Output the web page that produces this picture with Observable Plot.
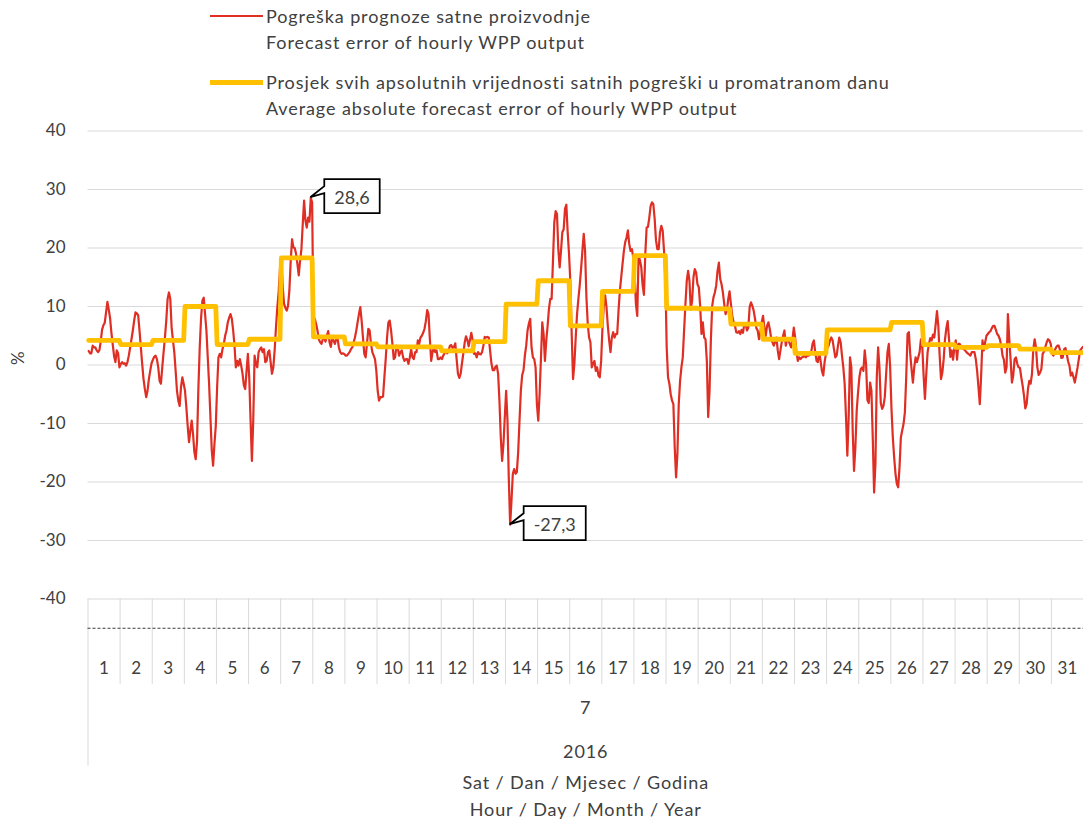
<!DOCTYPE html>
<html>
<head>
<meta charset="utf-8">
<script src="https://cdn.jsdelivr.net/npm/d3@7"></script>
<script src="https://cdn.jsdelivr.net/npm/@observablehq/plot@0.6"></script>
<style>
  body { margin: 0; background: #fff; font-family: Lato, "Open Sans", sans-serif; }
  #legend { position: relative; width: 1083px; height: 120px; }
  .sw { position: absolute; left: 210px; width: 53px; }
  .lt { position: absolute; left: 266px; font-size: 18px; letter-spacing: 0.9px; line-height: 26px; color: #404040; white-space: nowrap; }
  #chart svg { display: block; }
</style>
</head>
<body>
<div id="legend"></div>
<div id="chart"></div>
<script>
// ---- legend texts ----
const legendErrorText = ["Pogreška prognoze satne proizvodnje", "Forecast error of hourly WPP output"];
const legendAvgText = ["Prosjek svih apsolutnih vrijednosti satnih pogreški u promatranom danu", "Average absolute forecast error of hourly WPP output"];
const axisTitle = ["Sat / Dan / Mjesec / Godina", "Hour / Day / Month / Year"];
const monthLabel = "7";
const yearLabel = "2016";
const yLabel = "%";
const yTicks = [-40, -30, -20, -10, 0, 10, 20, 30, 40];
const dayLabels = ["1","2","3","4","5","6","7","8","9","10","11","12","13","14","15","16","17","18","19","20","21","22","23","24","25","26","27","28","29","30","31"];

// ---- hourly forecast error (%), one array per day of July 2016 ----
const d01 = [2.4,2.0,2.0,3.3,3.0,3.0,2.5,2.2,2.5,4.0,6.0,6.8,7.2,9.0,10.8,9.5,8.0,5.5,3.5,1.5,0.5,2.5,2.0,-0.4];
const d02 = [0.2,0.5,0.2,0.3,-0.1,0.5,1.6,3.0,4.4,5.9,7.6,9.0,8.8,8.5,5.9,3.0,0.2,-2.4,-4.1,-5.5,-4.4,-2.4,-1.0,0.3];
const d03 = [0.9,1.4,1.6,1.0,-0.4,-2.7,-3.2,-0.4,2.2,4.7,7.6,11.3,12.4,11.3,6.4,4.2,2.2,-1.0,-4.4,-6.1,-7.0,-3.8,-2.1,-3.2];
const d04 = [-4.4,-7.2,-10.4,-13.2,-11.2,-9.5,-11.8,-14.9,-16.1,-13.0,-4.0,3.0,8.0,11.0,11.5,8.7,5.9,1.3,-3.2,-8.9,-14.6,-17.2,-13.5,-10.4];
const d05 = [-3.8,1.3,1.9,1.3,2.7,3.6,5.0,5.9,7.3,8.1,8.7,7.9,5.9,3.3,-0.4,0.7,-0.1,1.0,-0.1,-1.5,-3.5,-4.1,-1.0,1.9];
const d06 = [-2.1,-9.5,-16.4,-9.5,1.6,0.2,-0.4,2.2,2.7,3.0,2.2,2.7,0.5,0.7,2.2,2.5,0.5,-1.5,-0.4,2.5,6.5,9.9,12.5,16.5];
const d07 = [18.4,13.5,10.5,9.8,9.3,10.1,12.7,17.8,21.5,20.1,20.0,19.0,17.3,15.3,17.8,19.8,24.1,28.1,24.7,23.5,25.2,24.5,28.6,27.8];
const d08 = [8.0,7.9,7.0,5.9,4.4,3.9,3.6,4.4,4.7,4.0,5.0,5.8,3.9,3.1,4.7,4.2,3.6,4.4,4.6,3.0,2.2,1.9,2.0,1.9];
const d09 = [1.6,1.6,1.9,2.2,2.7,3.0,3.9,4.7,5.9,7.3,8.7,9.9,7.6,4.7,1.9,1.3,3.6,6.2,5.9,3.6,2.2,1.6,1.0,-1.0];
const d10 = [-4.4,-6.1,-5.5,-5.5,-5.4,-2.1,1.0,4.7,7.3,7.6,5.9,3.6,1.0,1.3,3.3,3.0,1.6,2.2,2.5,1.3,0.7,1.0,1.0,0.2];
const d11 = [1.3,2.7,1.3,1.0,2.2,2.2,4.2,3.6,4.7,5.0,5.5,6.2,7.5,9.4,8.7,4.4,0.7,2.2,3.0,2.2,2.5,1.0,1.0,1.3];
const d12 = [1.0,1.6,2.0,2.5,2.0,2.5,3.3,3.4,2.9,3.1,3.7,1.0,-1.5,-2.2,-1.5,0.3,2.0,3.8,4.9,4.3,3.2,4.3,5.5,4.2];
const d13 = [1.9,2.0,1.3,2.2,1.9,1.8,2.2,3.3,4.8,4.7,4.8,4.7,2.5,0.3,-0.9,-0.9,-0.3,-0.1,-1.5,-6.1,-12.4,-16.4,-13.5,-8.9];
const d14 = [-4.4,-9.5,-19.5,-27.3,-23.2,-18.6,-17.8,-18.6,-18.3,-14.9,-9.5,-4.4,-1.7,-0.9,1.6,3.3,5.9,7.1,7.9,3.0,1.3,1.0,-0.4,-6.7];
const d15 = [-9.5,-5.0,1.0,7.3,5.3,0.7,4.2,6.7,9.6,11.3,11.3,17.8,24.4,26.3,25.8,19.8,16.7,19.5,22.7,23.2,26.7,27.4,22.7,19.0];
const d16 = [14.1,5.3,-2.4,0.2,4.7,8.7,11.3,13.6,16.4,19.5,22.4,19.5,11.6,7.0,4.7,3.9,-0.4,0.2,0.7,-1.0,-0.4,-1.8,-2.1,0.7];
const d17 = [6.4,10.1,11.9,9.9,6.7,4.2,2.2,4.7,5.6,4.7,5.3,5.3,9.3,12.7,15.0,17.3,19.5,21.0,21.8,23.0,20.7,19.5,19.8,18.4];
const d18 = [15.8,10.4,8.4,18.7,17.9,16.7,13.6,12.0,19.0,23.5,23.6,25.2,27.2,27.8,27.5,25.0,21.3,19.8,19.8,22.7,23.8,23.0,19.5,15.0];
const d19 = [3.0,-2.1,-3.2,-5.0,-6.1,-6.7,-14.1,-19.2,-15.2,-6.7,-2.7,-0.4,1.3,5.9,10.4,14.4,16.1,14.4,9.5,11.0,15.0,16.4,15.8,13.8];
const d20 = [13.3,10.1,5.3,7.3,4.7,4.4,0.7,-8.9,-4.5,4.2,10.1,11.6,12.4,13.6,16.1,17.5,14.7,13.8,12.4,10.4,8.7,9.3,11.3,12.6];
const d21 = [10.4,8.4,7.3,6.7,5.6,5.5,5.8,5.3,6.0,5.5,7.0,7.0,5.9,6.4,9.9,10.7,10.1,9.3,7.9,6.3,5.9,4.4,5.6,7.3];
const d22 = [8.4,6.4,5.0,6.7,7.3,6.2,4.7,3.9,3.3,3.9,4.7,2.5,1.0,2.5,3.9,5.0,5.9,3.3,4.4,4.2,3.6,3.0,4.4,6.4];
const d23 = [4.7,2.2,0.7,1.3,1.0,1.3,1.4,1.6,1.3,1.6,1.6,1.8,2.2,3.6,4.2,2.2,0.7,0.5,2.2,0.7,-1.0,-1.8,0.5,1.9];
const d24 = [2.9,3.3,4.2,4.7,4.2,2.7,1.3,1.6,3.3,4.7,3.9,1.6,-0.4,-3.2,-8.9,-15.5,-8.9,1.3,-0.4,-11.2,-18.1,-14.1,-7.8,-4.7];
const d25 = [-2.1,-0.7,-0.4,-1.0,2.5,0.2,-6.0,-6.5,-3.0,-4.4,-12.4,-21.8,-16.9,-2.1,3.0,-0.4,-6.5,-7.5,-7.0,-5.5,-1.5,2.2,3.6,-0.4];
const d26 = [-7.5,-12.4,-15.8,-18.6,-20.3,-20.9,-17.5,-12.4,-11.2,-10.1,-8.1,-2.1,5.3,5.6,1.9,-0.7,-3.0,-0.4,1.3,0.5,1.3,2.2,4.4,3.3];
const d27 = [-1.8,-5.8,-1.5,2.2,3.6,4.6,4.2,5.2,4.7,6.9,9.2,6.7,1.6,-2.4,-1.3,1.0,4.4,6.3,7.5,4.4,1.4,2.5,0.9,2.9];
const d28 = [4.2,0.9,3.6,3.6,3.2,2.9,2.7,2.5,2.2,2.0,1.8,1.6,2.2,2.2,2.2,1.0,-1.0,-3.8,-6.7,-1.8,4.2,2.5,3.9,5.0];
const d29 = [5.3,5.6,5.8,6.3,6.7,6.7,6.0,5.3,5.0,4.4,3.3,1.6,0.9,-1.3,-0.4,8.7,4.5,1.0,-3.0,-1.8,1.0,1.3,0.2,-0.4];
const d30 = [-0.5,-2.1,-3.5,-5.2,-7.4,-6.7,-4.1,-2.7,-3.2,-1.5,2.7,4.4,3.0,-0.4,-1.7,-1.3,-0.7,1.9,2.3,3.1,3.9,4.4,4.2,3.6];
const d31 = [1.9,1.6,2.5,3.0,3.3,3.3,2.5,1.2,1.3,2.7,2.9,1.9,0.6,-0.1,-1.8,-1.3,-2.1,-3.0,-1.8,-0.5,1.0,2.5,2.8,3.1];
const errorByDay = [d01,d02,d03,d04,d05,d06,d07,d08,d09,d10,d11,d12,d13,d14,d15,d16,d17,d18,d19,d20,d21,d22,d23,d24,d25,d26,d27,d28,d29,d30,d31];

// ---- daily average of absolute hourly errors (%) ----
const avgAbsError = [4.2,3.5,4.2,10.0,3.5,4.4,18.3,4.8,3.6,3.1,3.1,2.4,4.0,10.4,14.4,6.7,12.6,18.7,9.7,9.6,7.0,4.4,2.0,6.0,6.0,7.3,3.5,3.0,3.3,2.7,2.1];

// ---- styling ----
const RED = "#df2e23", GOLD = "#ffc000", TXT = "#404040", GRID = "#d9d9d9";
const FONT = "Lato, 'Open Sans', sans-serif";

// legend
const legend = document.getElementById("legend");
legend.innerHTML = `
  <div class="sw" style="top:15px;height:2px;background:${RED}"></div>
  <div class="lt" style="top:3px">${legendErrorText.join("<br>")}</div>
  <div class="sw" style="top:80px;height:5px;background:${GOLD}"></div>
  <div class="lt" style="top:69px">${legendAvgText.join("<br>")}</div>`;

// tables built from the arrays
const HOURS = 24;
const nHours = errorByDay.length * HOURS;
const errorRows = errorByDay.flatMap((arr, d) => arr.map((v, k) => ({h: d * HOURS + k + 0.5, v})));
const avgRows = avgAbsError.flatMap((v, d) => d3.range(HOURS).map(k => ({h: d * HOURS + k + 0.5, v})));
const dayCenters = dayLabels.map((_, i) => i * HOURS + HOURS / 2);
const dayBounds = dayLabels.slice(1).map((_, i) => (i + 1) * HOURS);
const yMin = yTicks[0], yMax = yTicks[yTicks.length - 1];
const axisLine = yMin - 5;          // category axis crossing (dashed)
const catBottom = axisLine - 9.6;   // end of day separators
const groupBottom = axisLine - 23.6; // end of outer separator
const midHour = nHours / 2;
const txtStyle = {fill: TXT, fontSize: 18, lineAnchor: "middle", frameAnchor: "bottom", x: () => midHour};

const chart = Plot.plot({
  width: 1083,
  height: 700,
  marginLeft: 87.5,
  marginRight: 0,
  marginTop: 10.5,
  marginBottom: 192.25,
  x: {domain: [0, nHours], axis: null},
  y: {domain: [axisLine, yMax], axis: null},
  style: {fontFamily: FONT, fontSize: "17px", color: TXT, background: "white", overflow: "visible"},
  marks: [
    Plot.gridY(yTicks, {stroke: GRID, strokeOpacity: 1, strokeWidth: 1}),
    Plot.axisY(yTicks, {tickSize: 0, tickPadding: 22.5, label: null, tickFormat: d => String(d), fill: TXT, fontSize: 17}),
    Plot.ruleX(dayBounds, {y1: yMin, y2: catBottom, stroke: GRID, strokeWidth: 1}),
    Plot.ruleX([0], {y1: yMin, y2: groupBottom, stroke: GRID, strokeWidth: 1}),
    Plot.ruleY([axisLine], {stroke: "#3a3a3a", strokeWidth: 1, strokeDasharray: "3,2"}),
    Plot.axisX(dayCenters, {tickSize: 0, tickPadding: 34, label: null, tickFormat: t => dayLabels[Math.floor(t / HOURS)], fill: TXT, fontSize: 17}),
    Plot.text([yLabel], {y: () => (yMin + yMax) / 2, frameAnchor: "left", dx: -69.5, rotate: -90, fill: TXT, fontSize: 17}),
    Plot.text([monthLabel], {...txtStyle, dy: 80}),
    Plot.text([yearLabel], {...txtStyle, dy: 124}),
    Plot.text([axisTitle[0]], {...txtStyle, dy: 155}),
    Plot.text([axisTitle[1]], {...txtStyle, dy: 182}),
    Plot.line(errorRows, {x: "h", y: "v", stroke: RED, strokeWidth: 2.2}),
    Plot.line(avgRows, {x: "h", y: "v", stroke: GOLD, strokeWidth: 4.8})
  ]
});
document.getElementById("chart").appendChild(chart);
// letter spacing for the category/axis titles (Excel-like wide text)
d3.select(chart).selectAll("text").filter(function () {
  const s = this.textContent;
  return s === monthLabel || s === yearLabel || axisTitle.includes(s);
}).style("letter-spacing", "0.9px");

// callouts for the extreme values, positioned through Plot's scales
const sx = chart.scale("x"), sy = chart.scale("y");
const fmt = v => v.toFixed(1).replace(".", ",");
function callout(row) {
  const px = sx.apply(row.h), py = sy.apply(row.v);
  const g = d3.select(chart).append("g");
  const t = g.append("text")
    .attr("font-size", 18).attr("fill", TXT)
    .attr("text-anchor", "middle").attr("dominant-baseline", "central")
    .style("font-family", FONT)
    .text(fmt(row.v));
  const w = t.node().getComputedTextLength() + 20;
  const left = px + 14, top = py - 18, bottom = py + 16, right = left + w;
  g.insert("path", "text")
    .attr("d", `M${left},${top}H${right}V${bottom}H${left}V${py - 4}L${px},${py}L${left},${py - 11}Z`)
    .attr("fill", "white").attr("stroke", "#000").attr("stroke-width", 1.75)
    .attr("stroke-linejoin", "miter");
  t.attr("x", (left + right) / 2).attr("y", (top + bottom) / 2 + 1);
}
callout(d3.greatest(errorRows, d => d.v));
callout(d3.least(errorRows, d => d.v));
</script>
</body>
</html>
